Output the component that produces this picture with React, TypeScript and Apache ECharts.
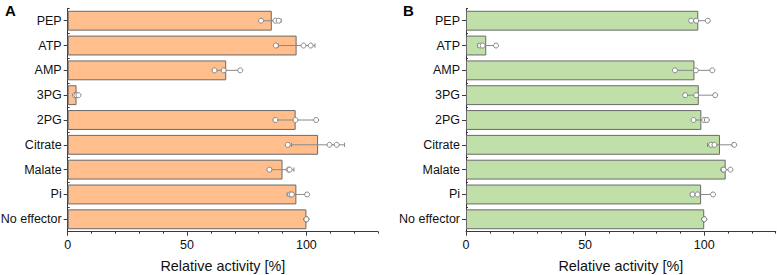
import React, { useEffect, useRef } from "react";
import * as echarts from "echarts";

const categories = ["PEP", "ATP", "AMP", "3PG", "2PG", "Citrate", "Malate", "Pi", "No effector"];

// Panel A (orange)
const meanA = [85.5, 95.9, 66.4, 3.7, 95.5, 104.9, 90.0, 95.8, 100];
const sdA = [3.9, 7.7, 5.5, 0.75, 8.5, 11.1, 4.8, 3.9, 0];
const repA = [
  [81.0, 87.0, 88.4],
  [87.2, 98.8, 101.8],
  [61.5, 65.4, 72.3],
  [3.0, 3.6, 4.5],
  [87.0, 95.4, 104.1],
  [92.2, 109.7, 112.7],
  [84.5, 92.5, 93.0],
  [93.2, 93.9, 100.3],
  [100, 100, 100],
];

// Panel B (green)
const meanB = [97.5, 8.5, 95.9, 97.7, 98.8, 106.6, 109.0, 98.7, 100];
const sdB = [3.6, 3.6, 7.9, 6.4, 2.9, 5.2, 1.7, 4.5, 0];
const repB = [
  [94.5, 96.6, 101.5],
  [5.9, 7.0, 12.6],
  [87.7, 96.5, 103.4],
  [92.0, 96.6, 104.6],
  [95.5, 99.9, 101.1],
  [102.9, 104.3, 112.6],
  [107.9, 108.2, 111.0],
  [95.1, 97.2, 103.7],
  [100, 100, 100],
];

const majorTicks = [0, 50, 100];
const minorTicks = [10, 20, 30, 40, 60, 70, 80, 90, 110, 120, 130];
const xMin = 0;
const xMax = 130;
const axisTitle = "Relative activity [%]";
const panelLabels = ["A", "B"];

const FONT = "'Liberation Sans', Arial, Helvetica, sans-serif";
const AXIS_COLOR = "#3a3a3a";

export default function App() {
  const ref = useRef<HTMLDivElement>(null);

  useEffect(() => {
    if (!ref.current) return;
    const chart = echarts.init(ref.current, undefined, { renderer: "svg" });

    const grids = [
      { left: 67.7, top: 8.3, width: 310.3, height: 223.4, outerBoundsMode: "none" },
      { left: 466, top: 8.3, width: 309.7, height: 223.4, outerBoundsMode: "none" },
    ];

    const mainX = (g: number) => ({
      type: "value",
      gridIndex: g,
      min: xMin,
      max: xMax,
      position: "bottom",
      name: axisTitle,
      nameLocation: "middle",
      nameGap: 27,
      nameTextStyle: { fontFamily: FONT, fontSize: 14.4, color: "#111" },
      axisLine: { show: true, lineStyle: { color: AXIS_COLOR, width: 1 } },
      axisTick: { show: true, customValues: majorTicks, length: 4, lineStyle: { color: AXIS_COLOR } },
      axisLabel: { show: true, customValues: majorTicks, margin: 7, fontFamily: FONT, fontSize: 12.5, color: "#111" },
      splitLine: { show: false },
    });
    const minorX = (g: number) => ({
      type: "value",
      gridIndex: g,
      min: xMin,
      max: xMax,
      position: "bottom",
      axisLine: { show: false },
      axisTick: { show: true, customValues: minorTicks, length: 2, lineStyle: { color: AXIS_COLOR } },
      axisLabel: { show: false },
      splitLine: { show: false },
    });
    const mainY = (g: number) => ({
      type: "category",
      gridIndex: g,
      data: categories,
      inverse: true,
      axisLine: { show: true, lineStyle: { color: AXIS_COLOR, width: 1 } },
      axisTick: { show: true, alignWithLabel: true, length: 4, lineStyle: { color: AXIS_COLOR } },
      axisLabel: { margin: 6, fontFamily: FONT, fontSize: 12.5, color: "#111" },
    });
    const boundY = (g: number) => ({
      type: "category",
      gridIndex: g,
      data: categories,
      inverse: true,
      axisLine: { show: false },
      axisTick: { show: true, alignWithLabel: false, interval: 0, length: 2, lineStyle: { color: AXIS_COLOR } },
      axisLabel: { show: false },
    });

    const errRender = (params: any, api: any) => {
      const lo = api.value(0);
      const hi = api.value(1);
      const c = api.value(2);
      if (hi - lo <= 0) return null;
      const p1 = api.coord([lo, c]);
      const p2 = api.coord([hi, c]);
      const h = 2.2;
      const style = { stroke: "#8a8a8a", lineWidth: 1, fill: "none" };
      return {
        type: "group",
        children: [
          { type: "line", shape: { x1: p1[0], y1: p1[1], x2: p2[0], y2: p2[1] }, style },
          { type: "line", shape: { x1: p1[0], y1: p1[1] - h, x2: p1[0], y2: p1[1] + h }, style },
          { type: "line", shape: { x1: p2[0], y1: p2[1] - h, x2: p2[0], y2: p2[1] + h }, style },
        ],
      };
    };

    const panelSeries = (g: number, mean: number[], sd: number[], rep: number[][], color: string) => [
      {
        type: "bar",
        xAxisIndex: g,
        yAxisIndex: g,
        data: mean,
        barCategoryGap: "20%",
        itemStyle: { color, borderColor: "#6a6a6a", borderWidth: 1 },
        z: 2,
      },
      {
        type: "custom",
        xAxisIndex: g,
        yAxisIndex: g,
        renderItem: errRender,
        encode: { x: [0, 1], y: 2 },
        data: mean.map((m, i) => [m - sd[i], m + sd[i], i]),
        z: 3,
      },
      {
        type: "scatter",
        xAxisIndex: g,
        yAxisIndex: g,
        symbol: "circle",
        symbolSize: 5,
        itemStyle: { color: "#ffffff", borderColor: "#7a7a7a", borderWidth: 0.9, opacity: 1 },
        data: rep.flatMap((vals, i) => vals.map((v) => [v, i])),
        z: 4,
      },
    ];

    chart.setOption({
      animation: false,
      backgroundColor: "#ffffff",
      textStyle: { fontFamily: FONT },
      grid: grids,
      xAxis: [mainX(0), mainX(1), minorX(0), minorX(1)],
      yAxis: [mainY(0), mainY(1), boundY(0), boundY(1)],
      series: [
        ...panelSeries(0, meanA, sdA, repA, "#FFBE8C"),
        ...panelSeries(1, meanB, sdB, repB, "#C1DFA8"),
      ],
      graphic: [
        { type: "text", left: 5, top: 3, style: { text: panelLabels[0], font: `bold 15px ${FONT}`, fill: "#000" } },
        { type: "text", left: 403, top: 3, style: { text: panelLabels[1], font: `bold 15px ${FONT}`, fill: "#000" } },
      ],
    });

    return () => chart.dispose();
  }, []);

  return (
    <div
      ref={ref}
      style={{ position: "fixed", left: 0, top: 0, width: 777, height: 275, background: "#fff" }}
    />
  );
}
